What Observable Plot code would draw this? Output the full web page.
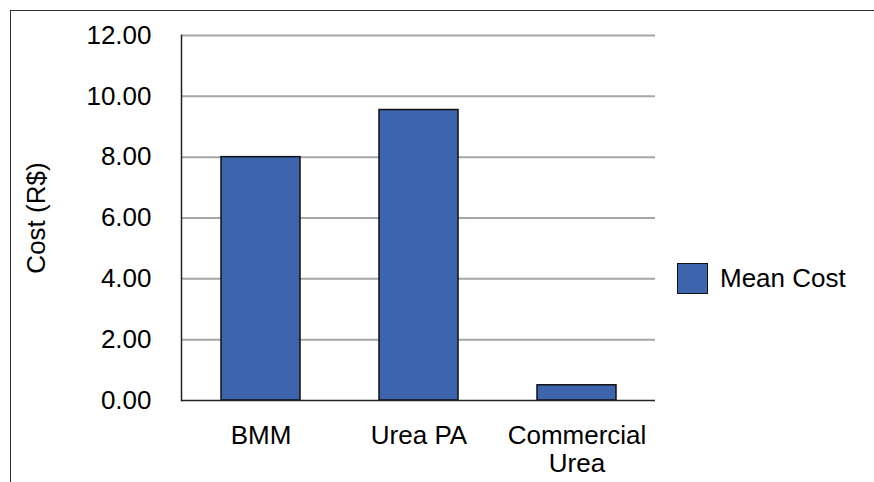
<!DOCTYPE html>
<html>
<head>
<meta charset="utf-8">
<script src="https://cdn.jsdelivr.net/npm/d3@7"></script>
<script src="https://cdn.jsdelivr.net/npm/@observablehq/plot@0.6"></script>
<style>
  html, body { margin: 0; padding: 0; background: #fff; }
  #wrap { position: relative; width: 874px; height: 482px; overflow: hidden; font-family: "Liberation Sans", Arial, sans-serif; }
  #frame { position: absolute; left: 10px; top: 10px; right: -5px; bottom: -5px; border-top: 1.5px solid #333; border-left: 1.5px solid #333; pointer-events: none; }
  #legend { position: absolute; left: 677px; top: 263px; display: flex; align-items: center; font-size: 26px; color: #000; }
  #legend .sw { width: 29px; height: 29px; background: #3c65ae; border: 1.5px solid #111; margin-right: 12px; }
  svg { position: absolute; left: 0; top: 0; }
</style>
</head>
<body>
<div id="wrap">
  <div id="frame"></div>
  <div id="legend"><div class="sw"></div><span>Mean Cost</span></div>
</div>
<script>
const categories = ["BMM", "Urea PA", "Commercial Urea"];
const xTickLabels = ["BMM", "Urea PA", "Commercial\nUrea"];
const meanCost = [8.0, 9.55, 0.5];
const yTicks = [0, 2, 4, 6, 8, 10, 12];
const seriesName = "Mean Cost";

const data = categories.map((c, i) => ({category: c, value: meanCost[i], series: seriesName}));

const chart = Plot.plot({
  width: 874,
  height: 482,
  marginLeft: 181,
  marginRight: 219,
  marginTop: 35,
  marginBottom: 82,
  style: {fontFamily: "'Liberation Sans', Arial, sans-serif", fontSize: "26px", color: "#000", background: "transparent"},
  x: {domain: categories, paddingInner: 0.5, paddingOuter: 0.25},
  y: {domain: [0, 12]},
  marks: [
    Plot.gridY(yTicks.filter(t => t > 0), {stroke: "#a6a6a6", strokeWidth: 2, strokeOpacity: 1}),
    Plot.barY(data, {x: "category", y: "value", fill: "#3c65ae", stroke: "#111", strokeWidth: 1.5}),
    Plot.ruleY([0], {stroke: "#222", strokeWidth: 1.5}),
    Plot.frame({anchor: "left", stroke: "#222", strokeWidth: 1.5}),
    Plot.axisY(yTicks, {
      tickSize: 0, tickPadding: 30, fontSize: 26,
      tickFormat: d => d.toFixed(2),
      label: "Cost (R$)", labelAnchor: "center", labelArrow: "none", labelOffset: 155
    }),
    Plot.axisX({
      tickSize: 0, tickPadding: 24, fontSize: 26, lineHeight: 1.06,
      tickFormat: d => xTickLabels[categories.indexOf(d)],
      label: null
    })
  ]
});
document.getElementById("wrap").prepend(chart);
</script>
</body>
</html>
